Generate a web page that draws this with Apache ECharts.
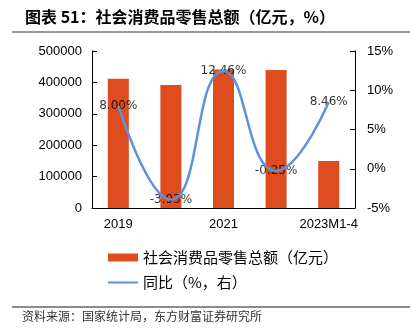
<!DOCTYPE html>
<html><head><meta charset="utf-8">
<script src="https://cdn.jsdelivr.net/npm/echarts@6/dist/echarts.min.js"></script>
<style>html,body{margin:0;padding:0;background:#fff}#c{width:413px;height:334px}</style>
</head><body><div id="c"></div>
<script>
const categories = ['2019','2020','2021','2022','2023M1-4'];
const salesValues = [411649, 391981, 440823, 439733, 149890];
const yoyValues = [8.00, -3.93, 12.46, -0.25, 8.46];
const leftTicks = [0, 500000, 100000];
const rightTicks = [-5, 15, 5];
const barName = '社会消费品零售总额（亿元）';
const lineName = '同比（%，右）';
const titleText = '图表 51：社会消费品零售总额（亿元，%）';
const sourceText = '资料来源：国家统计局，东方财富证券研究所';

const chart = echarts.init(document.getElementById('c'));
const axisFont = {fontFamily:'Liberation Sans, Arial, sans-serif', fontSize:13, color:'#000'};
chart.setOption({
  animation:false,
  title:{text:titleText,left:20,top:4,textStyle:{fontFamily:'Noto Sans CJK SC',fontSize:16,fontWeight:'bold',color:'#000'}},
  grid:{left:92,right:58,top:51,bottom:126},
  legend:{orient:'vertical',left:102,top:245,itemGap:10,itemWidth:30,itemHeight:8,
    textStyle:{fontFamily:'Noto Sans CJK SC',fontSize:15,color:'#000'},
    data:[{name:barName,icon:'rect'},{name:lineName,itemStyle:{opacity:0}}]},
  xAxis:{type:'category',data:categories,
    axisLine:{lineStyle:{color:'#000',width:1}},
    axisTick:{inside:true,length:5,interval:0,lineStyle:{color:'#000'}},
    axisLabel:Object.assign({interval:1,margin:10},axisFont)},
  yAxis:[
    {type:'value',min:leftTicks[0],max:leftTicks[1],interval:leftTicks[2],
     axisLine:{show:true,lineStyle:{color:'#000'}},
     axisTick:{show:true,inside:true,length:5,lineStyle:{color:'#000'}},
     splitLine:{show:false},
     axisLabel:Object.assign({margin:10,formatter:v=>String(v)},axisFont)},
    {type:'value',min:rightTicks[0],max:rightTicks[1],interval:rightTicks[2],position:'right',
     axisLine:{show:true,lineStyle:{color:'#000'}},
     axisTick:{show:true,inside:true,length:5,lineStyle:{color:'#000'}},
     splitLine:{show:false},
     axisLabel:Object.assign({margin:12,formatter:v=>v+'%'},axisFont)}
  ],
  series:[
    {name:barName,type:'bar',data:salesValues,barWidth:'40%',itemStyle:{color:'#DD4D1F'}},
    {name:lineName,type:'line',yAxisIndex:1,data:yoyValues,smooth:0.5,symbol:'none',
     lineStyle:{color:'#5B92DA',width:2.5},itemStyle:{color:'#5B92DA'}},
    {name:'labels',type:'scatter',yAxisIndex:1,data:yoyValues,symbolSize:0,silent:true,
     itemStyle:{color:'transparent'},
     label:{show:true,position:'inside',formatter:p=>p.value.toFixed(2)+'%',
       fontFamily:'DejaVu Sans',fontSize:12,color:'#000'}}
  ],
  graphic:[
    {type:'line',shape:{x1:12,y1:32,x2:410,y2:32},style:{stroke:'#999',lineWidth:2}},
    {type:'line',shape:{x1:12,y1:307,x2:410,y2:307},style:{stroke:'#666',lineWidth:1.5}},
    {type:'text',left:22,top:310,style:{text:sourceText,fontFamily:'Noto Sans CJK SC',fontSize:12,fill:'#333'}}
  ]
});
</script></body></html>
